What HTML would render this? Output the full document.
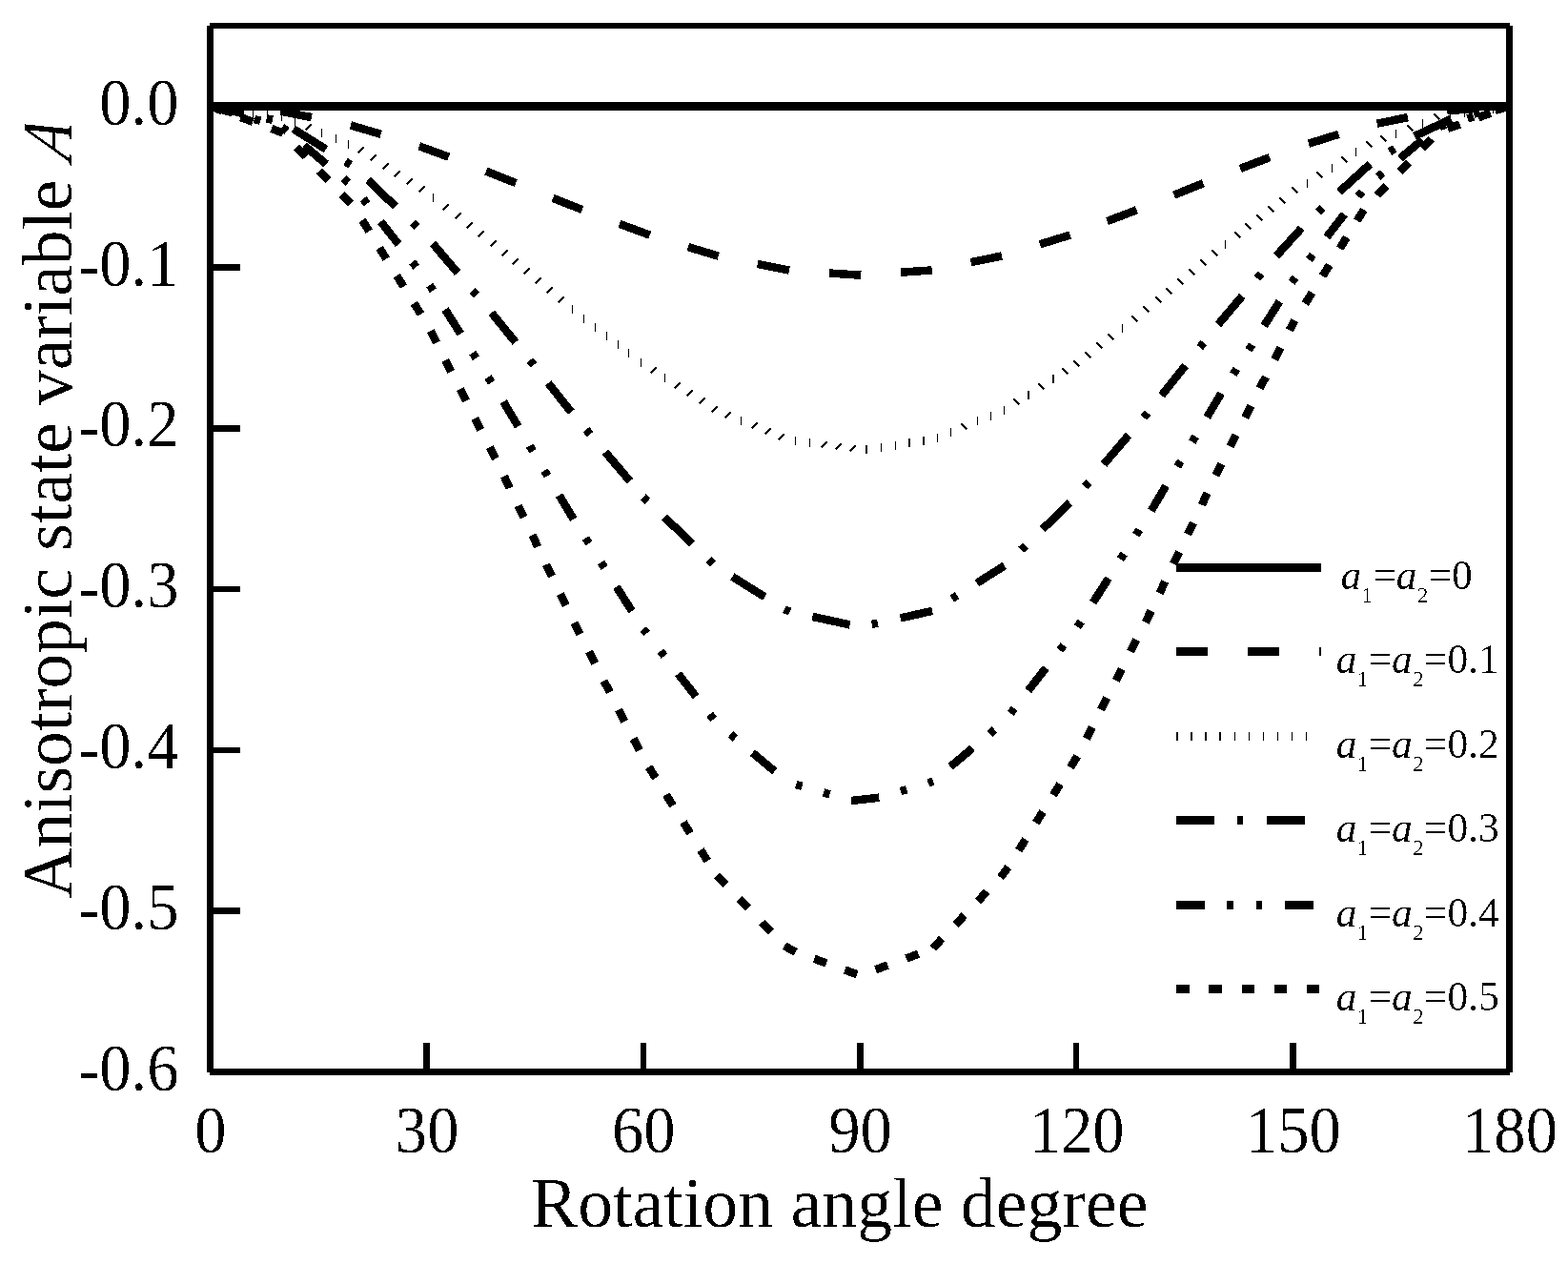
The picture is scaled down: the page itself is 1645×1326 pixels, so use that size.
<!DOCTYPE html>
<html lang="en">
<head>
<meta charset="utf-8">
<title>Anisotropic state variable A vs rotation angle</title>
<style>
html,body{margin:0;padding:0;background:#fff;}
body{width:1645px;height:1326px;overflow:hidden;}
svg{display:block;}
text{font-family:"Liberation Serif",serif;fill:#000;font-kerning:none;font-variant-ligatures:none;}
.tk{font-size:66.7px;}
.ttl{font-size:75px;}
.lg{font-size:43.6px;}
.sub{font-size:23.8px;font-style:normal;}
.it{font-style:italic;}
</style>
</head>
<body>
<svg width="1645" height="1326" viewBox="0 0 1645 1326">
<defs>
<filter id="bw" filterUnits="userSpaceOnUse" x="0" y="0" width="1645" height="1326" color-interpolation-filters="sRGB">
<feComponentTransfer><feFuncA type="discrete" tableValues="0 0 0 0 0 0 1 1 1 1"/></feComponentTransfer>
</filter>
</defs>
<rect x="0" y="0" width="1645" height="1326" fill="#fff"/>

<g fill="none" stroke="#000" stroke-width="8.5" shape-rendering="crispEdges" stroke-linejoin="miter" stroke-linecap="butt">
<path d="M220.5 111.5L252.6 113.8M294.4 116.7L326.9 123.1M367.9 131.4L399.7 140.9M439.7 153.3L470.8 164.7M510.0 179.6L541.2 192.0M580.0 207.8L610.8 220.0M649.9 234.9L681.8 246.6M721.8 259.1L753.7 268.7M794.8 277.0L828.0 283.6M869.8 286.5L903.3 288.7M945.1 285.7L977.7 283.4M1018.6 275.1L1051.1 268.5M1090.9 256.4L1122.6 246.5M1161.5 232.1L1192.5 220.3M1231.6 204.7L1262.3 192.2M1301.2 176.9L1332.1 165.1M1372.9 150.7L1404.5 140.8M1444.6 129.7L1477.0 123.1M1518.3 116.1L1551.3 113.8"/>
<path d="M235.5 109.5v9M250.5 111.5v9M265.5 113.5v9M280.5 115.5v9M295.5 117.5v9M309.5 123.5v9M337.5 134.5v9M352.5 140.5v9M365.5 146.5v9M454.5 202.5v9M600.5 319.5v9M612.5 329.5v9M624.5 338.5v9M636.5 347.5v9M648.5 356.5v9M659.5 365.5v9M672.5 375.5v9M697.5 391.5v9M777.5 436.5v9M834.5 457.5v9M849.5 459.5v9M924.5 464.5v9M939.5 462.5v9M983.5 454.5v9M997.5 448.5v9M1025.5 436.5v9M1039.5 431.5v9M1053.5 425.5v9M1177.5 339.5v9M1285.5 251.5v9M1371.5 187.5v9M1397.5 171.5v9M1422.5 154.5v9M1464.5 135.5v9M1492.5 124.5v9M1521.5 115.5v9M1536.5 113.5v9M1551.5 111.5v9M1566.5 109.5v9" stroke-width="1"/>
<path d="M909 466.5v9M954 459.5v9M969 457.5v9M1079 409.5v9M1105 392.5v9" stroke-width="2"/>
<path d="M320.5 136.5L326.5 130.5M375.5 160.5L381.5 154.5M388.5 168.5L394.5 162.5M401.5 177.5L407.5 171.5M413.5 185.5L419.5 179.5M426.5 193.5L432.5 187.5M439.5 201.5L445.5 195.5M464.5 220.5L470.5 214.5M477.5 229.5L483.5 223.5M489.5 239.5L495.5 233.5M501.5 248.5L507.5 242.5M514.5 258.5L520.5 252.5M526.5 268.5L532.5 262.5M537.5 277.5L543.5 271.5M549.5 287.5L555.5 281.5M561.5 297.5L567.5 291.5M573.5 307.5L579.5 301.5M585.5 317.5L591.5 311.5M682.5 391.5L688.5 385.5M707.5 407.5L713.5 401.5M720.5 415.5L726.5 409.5M733.5 423.5L739.5 417.5M746.5 432.5L752.5 426.5M760.5 438.5L766.5 432.5M788.5 449.5L794.5 443.5M802.5 455.5L808.5 449.5M816.5 461.5L822.5 455.5M861.5 469.5L867.5 463.5M876.5 471.5L882.5 465.5M891.5 473.5L897.5 467.5M1008.5 444.5L1014.5 450.5M1063.5 418.5L1069.5 424.5M1089.5 402.5L1095.5 408.5M1114.5 386.5L1120.5 392.5M1126.5 378.5L1132.5 384.5M1138.5 369.5L1144.5 375.5M1150.5 359.5L1156.5 365.5M1162.5 350.5L1168.5 356.5M1187.5 331.5L1193.5 337.5M1199.5 321.5L1205.5 327.5M1212.5 311.5L1218.5 317.5M1223.5 302.5L1229.5 308.5M1235.5 292.5L1241.5 298.5M1247.5 282.5L1253.5 288.5M1259.5 272.5L1265.5 278.5M1271.5 262.5L1277.5 268.5M1295.5 243.5L1301.5 249.5M1306.5 234.5L1312.5 240.5M1318.5 225.5L1324.5 231.5M1330.5 216.5L1336.5 222.5M1342.5 207.5L1348.5 213.5M1355.5 196.5L1361.5 202.5M1381.5 180.5L1387.5 186.5M1407.5 164.5L1413.5 170.5M1433.5 148.5L1439.5 154.5M1448.5 142.5L1454.5 148.5M1476.5 131.5L1482.5 137.5M1504.5 119.5L1510.5 125.5" stroke-width="2"/>
<path d="M220.5 111.5L255.9 119.2M279.6 124.4L285.9 125.7M307.8 135.2L341.9 156.6M362.5 169.5L367.9 172.9M386.1 188.9L415.1 216.8M432.6 233.6L437.2 238.0M454.0 255.5L480.1 286.2M495.8 304.7L499.9 309.6M515.7 328.1L540.8 359.0M555.9 377.9L559.9 382.9M575.1 401.9L599.3 432.2M615.0 450.8L619.2 455.6M634.9 474.2L661.0 504.8M674.9 521.2L679.5 525.6M697.0 542.4L726.0 570.3M743.6 587.1L748.2 591.5M768.3 604.9L802.4 626.2M823.0 639.1L828.6 641.7M852.3 646.9L891.6 655.4M914.7 654.9L920.9 653.6M944.7 648.4L978.1 640.9M998.7 628.0L1004.2 624.7M1024.8 611.8L1053.8 593.4M1071.4 576.6L1076.0 572.2M1093.5 555.3L1122.5 527.5M1138.2 510.5L1142.3 505.7M1158.0 487.1L1184.1 456.5M1199.8 438.0L1204.0 433.1M1218.5 414.9L1243.6 383.5M1258.8 364.5L1262.8 359.5M1277.9 340.5L1303.3 310.5M1319.0 292.0L1323.1 287.1M1338.9 268.6L1365.4 239.4M1382.9 222.5L1387.5 218.1M1405.1 201.3L1437.3 172.1M1457.9 159.2L1463.3 155.8M1483.9 142.9L1522.5 124.8M1546.2 119.6L1552.5 118.2M1576.2 113.1L1583.5 111.5"/>
<path d="M220.5 111.5L244.2 118.4M266.9 125.0L273.2 126.8M295.9 133.4L301.0 137.5M319.1 152.7L342.2 172.1M360.3 187.3L365.4 191.5M381.0 208.6L385.0 213.8M399.5 232.5L418.1 256.3M432.6 274.9L436.7 280.1M450.8 299.2L454.4 304.8M467.0 324.7L483.2 350.2M495.8 370.1L499.4 375.7M512.0 395.6L515.6 401.2M528.1 421.4L543.6 447.4M555.7 467.6L559.0 473.3M571.1 493.6L574.5 499.2M586.6 519.5L601.7 544.6M614.4 564.5L617.9 570.1M630.6 590.0L634.1 595.6M646.7 615.5L662.9 641.0M674.8 659.8L678.4 664.4M692.9 683.0L697.0 688.3M711.5 706.9L730.1 730.7M744.6 749.3L748.6 754.5M766.4 770.3L771.4 774.5M789.5 789.7L812.7 809.1M835.1 823.1L841.5 824.9M864.1 831.5L870.5 833.4M893.1 840.0L922.2 836.7M944.9 830.1L951.2 828.2M973.9 821.6L979.0 819.4M997.1 804.3L1020.2 784.9M1038.3 769.7L1043.4 765.5M1060.2 748.4L1064.2 743.2M1078.7 724.5L1097.3 700.7M1111.8 682.1L1115.9 676.9M1130.5 657.6L1134.1 652.1M1146.7 632.1L1162.9 606.7M1175.5 586.7L1179.1 581.2M1191.7 561.2L1195.3 555.7M1207.8 535.7L1223.2 509.7M1235.3 489.4L1238.7 483.8M1250.8 463.5L1254.2 457.8M1266.3 437.6L1281.2 412.6M1293.9 392.7L1297.4 387.1M1310.0 367.2L1313.6 361.6M1326.2 341.7L1342.4 316.2M1355.1 296.3L1358.8 291.1M1373.3 272.5L1377.4 267.3M1391.9 248.6L1410.4 224.8M1424.9 206.2L1429.0 201.0M1445.7 185.6L1450.7 181.4M1468.8 166.2L1492.0 146.8M1510.6 132.7L1517.0 130.9M1539.6 124.3L1546.0 122.4M1568.6 115.8L1583.5 111.5"/>
<path d="M220.5 111.5L233.3 116.1M252.6 123.2L265.4 127.8M284.8 134.8L296.9 139.7M311.2 154.6L320.6 164.5M334.8 179.3L344.2 189.2M358.5 204.1L367.9 213.9M380.0 231.0L387.2 242.6M398.1 260.1L405.3 271.6M416.2 289.1L423.4 300.6M434.3 318.1L441.5 329.6M451.7 347.3L457.8 359.4M467.2 377.8L473.4 389.9M482.7 408.2L488.9 420.4M498.2 438.7L504.4 450.8M513.7 469.2L519.9 481.3M528.9 499.6L534.7 511.9M543.6 530.5L549.5 542.8M558.4 561.3L564.2 573.6M573.1 592.2L579.0 604.5M587.9 623.1L593.8 635.3M602.5 653.1L608.6 665.2M618.0 683.6L624.2 695.7M633.5 714.1L639.7 726.2M649.0 744.5L655.2 756.7M664.5 775.0L670.7 787.1M680.6 804.6L687.8 816.1M698.8 833.6L706.0 845.1M716.9 862.6L724.1 874.1M735.0 891.6L742.2 903.1M752.1 918.1L761.5 928.0M775.7 942.9L785.1 952.7M799.4 967.6L808.8 977.4M823.0 992.3L834.8 998.8M854.2 1005.8L866.9 1010.5M886.3 1017.5L899.1 1022.1M918.6 1017.2L931.4 1012.5M950.8 1005.5L963.6 1000.8M978.7 994.7L988.1 984.8M1002.4 970.0L1011.8 960.1M1026.0 945.2L1035.4 935.4M1049.6 920.5L1057.8 909.6M1068.7 892.1L1075.9 880.6M1086.8 863.1L1094.0 851.6M1104.9 834.1L1112.1 822.6M1123.0 805.1L1130.2 793.2M1139.6 774.9L1145.7 762.7M1155.1 744.4L1161.2 732.3M1170.6 713.9L1176.8 701.8M1186.1 683.4L1192.3 671.3M1201.6 652.9L1207.6 640.8M1216.5 622.3L1222.4 610.0M1231.2 591.4L1237.1 579.1M1246.0 560.5L1251.9 548.3M1260.8 529.7L1266.6 517.4M1275.5 498.8L1281.3 486.8M1290.7 468.4L1296.8 456.3M1306.2 437.9L1312.4 425.8M1321.7 407.5L1327.9 395.3M1337.2 377.0L1343.4 364.9M1352.7 346.5L1358.4 336.1M1369.3 318.6L1376.5 307.1M1387.5 289.6L1394.7 278.0M1405.6 260.6L1412.8 249.0M1423.7 231.6L1430.9 220.0M1444.8 204.8L1454.2 195.0M1468.5 180.1L1477.9 170.2M1492.1 155.4L1501.5 145.5M1518.7 135.0L1531.5 130.4M1550.9 123.3L1563.7 118.7M1583.0 111.7L1583.5 111.5"/>
</g>
<g fill="#000" shape-rendering="crispEdges">
<rect x="217" y="27" width="7" height="1098"/>
<rect x="1580" y="27" width="7" height="1098"/>
<rect x="220" y="24" width="1364" height="6"/>
<rect x="220" y="1121" width="1364" height="7"/>
<rect x="220" y="107" width="1364" height="9"/>
<rect x="224" y="277" width="28" height="7"/>
<rect x="224" y="446" width="28" height="7"/>
<rect x="224" y="615" width="28" height="6"/>
<rect x="224" y="784" width="28" height="6"/>
<rect x="224" y="952" width="28" height="7"/>
<rect x="444" y="1094" width="7" height="27"/>
<rect x="672" y="1094" width="6" height="27"/>
<rect x="899" y="1094" width="7" height="27"/>
<rect x="1126" y="1094" width="6" height="27"/>
<rect x="1353" y="1094" width="7" height="27"/>
</g>
<g filter="url(#bw)">
<text class="tk" transform="translate(187.5 130.7) scale(1 1.035)" text-anchor="end">0.0</text>
<text class="tk" transform="translate(187.5 299.5) scale(1 1.035)" text-anchor="end"><tspan dy="1.5">-</tspan><tspan dy="-1.5">0.1</tspan></text>
<text class="tk" transform="translate(187.5 468.4) scale(1 1.035)" text-anchor="end"><tspan dy="1.5">-</tspan><tspan dy="-1.5">0.2</tspan></text>
<text class="tk" transform="translate(187.5 637.2) scale(1 1.035)" text-anchor="end"><tspan dy="1.5">-</tspan><tspan dy="-1.5">0.3</tspan></text>
<text class="tk" transform="translate(187.5 806.0) scale(1 1.035)" text-anchor="end"><tspan dy="1.5">-</tspan><tspan dy="-1.5">0.4</tspan></text>
<text class="tk" transform="translate(187.5 974.9) scale(1 1.035)" text-anchor="end"><tspan dy="1.5">-</tspan><tspan dy="-1.5">0.5</tspan></text>
<text class="tk" transform="translate(187.5 1143.7) scale(1 1.035)" text-anchor="end"><tspan dy="1.5">-</tspan><tspan dy="-1.5">0.6</tspan></text>
<text class="tk" transform="translate(221.0 1209) scale(1 1.035)" text-anchor="middle">0</text>
<text class="tk" transform="translate(448.2 1209) scale(1 1.035)" text-anchor="middle">30</text>
<text class="tk" transform="translate(675.3 1209) scale(1 1.035)" text-anchor="middle">60</text>
<text class="tk" transform="translate(902.5 1209) scale(1 1.035)" text-anchor="middle">90</text>
<text class="tk" transform="translate(1129.7 1209) scale(1 1.035)" text-anchor="middle">120</text>
<text class="tk" transform="translate(1356.8 1209) scale(1 1.035)" text-anchor="middle">150</text>
<text class="tk" transform="translate(1584.0 1209) scale(1 1.035)" text-anchor="middle">180</text>
<text class="ttl" transform="translate(557 1287) scale(0.984 1)">Rotation angle degree</text>
<text class="ttl" transform="translate(75 942.5) rotate(-90) scale(0.9783 1)">Anisotropic state variable</text>
<text class="ttl it" transform="translate(75 170.5) rotate(-90) matrix(0.8375 0 -0.268 1 0 0)">A</text>
</g>
<g fill="#000" shape-rendering="crispEdges">
<rect x="1234" y="591" width="152" height="9"/>
<rect x="1234" y="679" width="33" height="9"/>
<rect x="1309" y="679" width="33" height="9"/>
<rect x="1384" y="679" width="2" height="9"/>
<rect x="1234" y="768" width="2" height="9"/>
<rect x="1249" y="768" width="2" height="9"/>
<rect x="1264" y="768" width="2" height="9"/>
<rect x="1279" y="768" width="2" height="9"/>
<rect x="1295" y="768" width="1" height="9"/>
<rect x="1310" y="768" width="1" height="9"/>
<rect x="1325" y="768" width="1" height="9"/>
<rect x="1340" y="768" width="1" height="9"/>
<rect x="1355" y="768" width="1" height="9"/>
<rect x="1370" y="768" width="1" height="9"/>
<rect x="1234" y="856" width="40" height="9"/>
<rect x="1298" y="856" width="6" height="9"/>
<rect x="1329" y="856" width="40" height="9"/>
<rect x="1234" y="945" width="30" height="9"/>
<rect x="1287" y="945" width="7" height="9"/>
<rect x="1318" y="945" width="6" height="9"/>
<rect x="1348" y="945" width="30" height="9"/>
<rect x="1234" y="1033" width="14" height="9"/>
<rect x="1268" y="1033" width="14" height="9"/>
<rect x="1303" y="1033" width="13" height="9"/>
<rect x="1337" y="1033" width="13" height="9"/>
<rect x="1371" y="1033" width="13" height="9"/>
</g>
<g filter="url(#bw)">
<text class="lg" x="1406.5" y="618.1"><tspan class="it">a</tspan><tspan class="sub" dy="13.9">1</tspan><tspan dy="-13.9">=</tspan><tspan class="it">a</tspan><tspan class="sub" dy="13.9">2</tspan><tspan dy="-13.9">=0</tspan></text>
<text class="lg" x="1401.8" y="706.1"><tspan class="it">a</tspan><tspan class="sub" dy="13.9">1</tspan><tspan dy="-13.9">=</tspan><tspan class="it">a</tspan><tspan class="sub" dy="13.9">2</tspan><tspan dy="-13.9">=0.1</tspan></text>
<text class="lg" x="1401.8" y="795.1"><tspan class="it">a</tspan><tspan class="sub" dy="13.9">1</tspan><tspan dy="-13.9">=</tspan><tspan class="it">a</tspan><tspan class="sub" dy="13.9">2</tspan><tspan dy="-13.9">=0.2</tspan></text>
<text class="lg" x="1401.8" y="883.1"><tspan class="it">a</tspan><tspan class="sub" dy="13.9">1</tspan><tspan dy="-13.9">=</tspan><tspan class="it">a</tspan><tspan class="sub" dy="13.9">2</tspan><tspan dy="-13.9">=0.3</tspan></text>
<text class="lg" x="1401.8" y="972.1"><tspan class="it">a</tspan><tspan class="sub" dy="13.9">1</tspan><tspan dy="-13.9">=</tspan><tspan class="it">a</tspan><tspan class="sub" dy="13.9">2</tspan><tspan dy="-13.9">=0.4</tspan></text>
<text class="lg" x="1401.8" y="1060.1"><tspan class="it">a</tspan><tspan class="sub" dy="13.9">1</tspan><tspan dy="-13.9">=</tspan><tspan class="it">a</tspan><tspan class="sub" dy="13.9">2</tspan><tspan dy="-13.9">=0.5</tspan></text>
</g>
</svg>
</body>
</html>
